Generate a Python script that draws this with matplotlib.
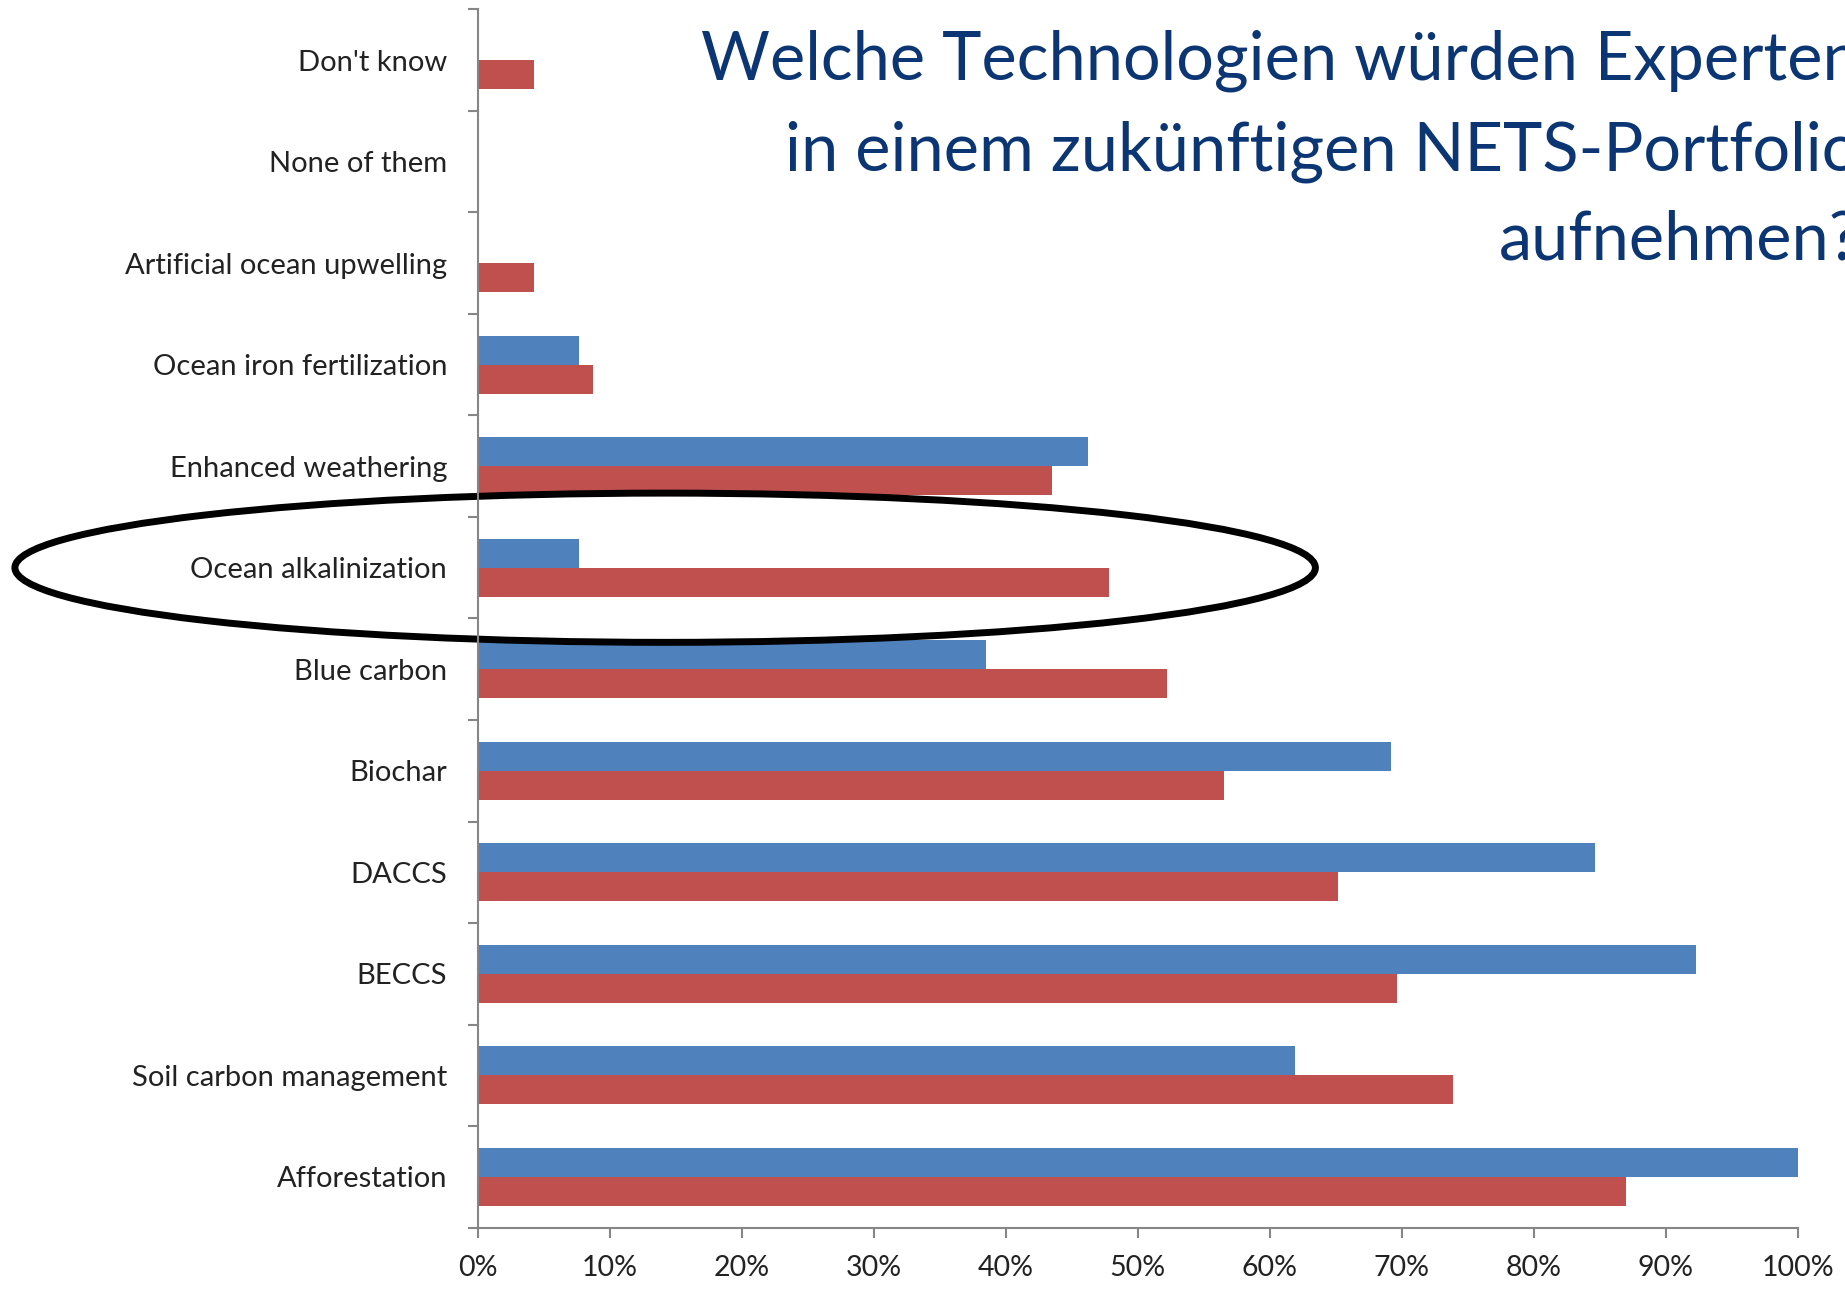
import numpy as np
import matplotlib
matplotlib.use("Agg")
from matplotlib import pyplot as plt
from matplotlib.patches import Ellipse

plt.rcParams['font.family'] = ['Lato', 'DejaVu Sans']

# categories, top to bottom as shown
categories = ["Don't know", "None of them", "Artificial ocean upwelling",
              "Ocean iron fertilization", "Enhanced weathering",
              "Ocean alkalinization", "Blue carbon", "Biochar", "DACCS",
              "BECCS", "Soil carbon management", "Afforestation"]
# blue series (%)
blue_vals = [0, 0, 0, 7.7, 46.2, 7.7, 38.5, 69.2, 84.6, 92.3, 61.9, 100.0]
# red series (%)
red_vals = [4.3, 0, 4.3, 8.7, 43.5, 47.8, 52.2, 56.5, 65.2, 69.6, 73.9, 87.0]
xticks = np.arange(0, 101, 10)
xtick_labels = ['{}%'.format(v) for v in xticks]

title_lines = ["Welche Technologien würden Experten",
               "in einem zukünftigen NETS-Portfolio",
               "aufnehmen?"]

BLUE = '#4F81BD'
RED = '#C0504D'
GREY = '#868686'

fig = plt.figure(figsize=(18.45, 12.9), dpi=100)
ax = fig.add_axes([0.2589, 0.0484, 0.7156, 0.9443])

y = np.arange(len(categories))
h = 0.285
ax.barh(y - h / 2, blue_vals, height=h, color=BLUE)
ax.barh(y + h / 2, red_vals, height=h, color=RED)

ax.set_xlim(0, 100)
ax.set_ylim(len(categories) - 0.5, -0.5)

ax.set_yticks(y)
ax.set_yticklabels(categories)
ax.set_yticks(np.arange(-0.5, len(categories)), minor=True)
ax.tick_params(axis='y', which='major', length=0, pad=22, labelsize=21,
               labelcolor='#222222')
ax.tick_params(axis='y', which='minor', length=7, width=1.5, color=GREY,
               direction='out')

ax.set_xticks(xticks)
ax.set_xticklabels(xtick_labels)
ax.tick_params(axis='x', length=7, width=1.5, color=GREY, pad=13,
               labelsize=20.5, labelcolor='#222222')

for side in ['top', 'right']:
    ax.spines[side].set_visible(False)
for side in ['left', 'bottom']:
    ax.spines[side].set_color(GREY)
    ax.spines[side].set_linewidth(1.5)

# circle around Ocean alkalinization
ell = Ellipse((14.2, 5.0), width=98.5, height=1.47, fill=False,
              edgecolor='black', linewidth=5, clip_on=False)
ax.add_patch(ell)

# title, right edge runs slightly past the figure like in the original slide
for line, yb in zip(title_lines, [0.938, 0.868, 0.799]):
    fig.text(1.008, yb, line, ha='right', va='baseline', fontsize=48,
             color='#0B3673')

fig.savefig('out.png', dpi=100)
